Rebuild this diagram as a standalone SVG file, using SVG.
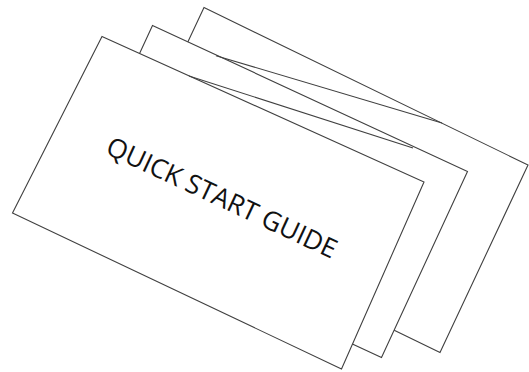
<svg xmlns="http://www.w3.org/2000/svg" width="529" height="372" viewBox="0 0 529 372">
<style>
.card{fill:#ffffff;stroke:#404040;stroke-width:1.1;stroke-linejoin:miter}
.edge{fill:none;stroke:#404040;stroke-width:1.1}
.title{font-family:"Open Sans","Noto Sans",sans-serif;font-size:26.5px;fill:#111111}
</style>
<rect width="529" height="372" fill="#ffffff"/>
<g id="card-back">
<polygon class="card" points="204,7.5 528,165 440,352.5 116,195"/>
</g>
<g id="card-middle">
<polygon class="card" points="152.5,25.5 467.5,171.5 381.5,357.5 66.5,211.5"/>
</g>
<g id="connectors">
<line class="edge" x1="216" y1="55.7" x2="442" y2="123"/>
</g>
<g id="card-front">
<polygon class="card" points="102,36.5 424,182 341.5,369 12.5,213"/>
<text class="title" x="218" y="206" text-anchor="middle" transform="rotate(25 218 206)">QUICK START GUIDE</text>
</g>
<g id="connectors-front">
<line class="edge" x1="189" y1="76" x2="413" y2="148"/>
</g>
</svg>
